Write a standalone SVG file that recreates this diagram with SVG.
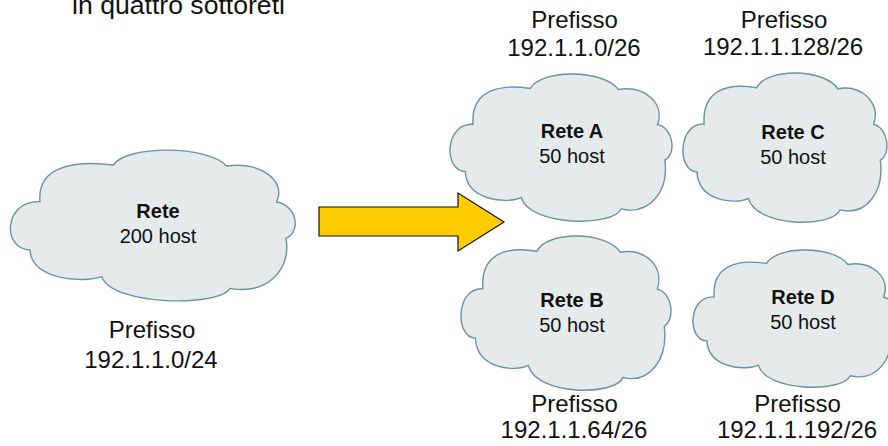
<svg xmlns="http://www.w3.org/2000/svg" xmlns:xlink="http://www.w3.org/1999/xlink" width="888" height="446" viewBox="0 0 888 446">
<style>
.cloud{fill:#e5ebeb;stroke:#6e9496;stroke-width:1.4;vector-effect:non-scaling-stroke}
.t{font-family:"Liberation Sans",Arial,sans-serif;fill:#111;text-anchor:middle}
.n{font-size:20px}
.b{font-weight:bold}
.l{font-size:24px}
.title{font-size:26.6px}
.arrow{fill:#ffcc00;stroke:#111;stroke-width:1.2;stroke-linejoin:miter}
</style>
<defs>
<path id="cloudShape" class="cloud" d="M 90,300 C 5,298 10,150 120,155 C 110,50 220,30 340,45 C 380,-15 620,-15 680,48 C 780,35 860,90 830,156 C 890,165 905,245 858,265 C 875,360 800,435 690,415 C 660,470 340,470 305,380 C 250,400 95,390 90,300 Z"/>
</defs>
<text class="t title" x="178.5" y="13.5">in quattro sottoreti</text>
<g id="connectors">
<polygon class="arrow" points="319,207 458,207 458,193 504,222 458,251 458,236 319,236"/>
</g>
<g id="rete">
<use xlink:href="#cloudShape" href="#cloudShape" transform="translate(0,150) scale(0.3333)"/>
<text class="t n b" x="158" y="218">Rete</text>
<text class="t n" x="158" y="243">200 host</text>
<text class="t l" x="152" y="338">Prefisso</text>
<text class="t l" x="151" y="368">192.1.1.0/24</text>
</g>
<g id="rete-a">
<use xlink:href="#cloudShape" href="#cloudShape" transform="translate(441.9,73.9) scale(0.2598,0.3254)"/>
<text class="t n b" x="572" y="138">Rete A</text>
<text class="t n" x="572" y="163">50 host</text>
<text class="t l" x="574.5" y="28">Prefisso</text>
<text class="t l" x="574" y="56">192.1.1.0/26</text>
</g>
<g id="rete-c">
<use xlink:href="#cloudShape" href="#cloudShape" transform="translate(675.5,72.9) scale(0.2387,0.3299)"/>
<text class="t n b" x="793" y="139">Rete C</text>
<text class="t n" x="793" y="164">50 host</text>
<text class="t l" x="784" y="27.5">Prefisso</text>
<text class="t l" x="783" y="55">192.1.1.128/26</text>
</g>
<g id="rete-b">
<use xlink:href="#cloudShape" href="#cloudShape" transform="translate(453.3,235.9) scale(0.2458,0.3409)"/>
<text class="t n b" x="572" y="307">Rete B</text>
<text class="t n" x="572" y="332">50 host</text>
<text class="t l" x="574.5" y="412">Prefisso</text>
<text class="t l" x="574" y="438">192.1.1.64/26</text>
</g>
<g id="rete-d">
<use xlink:href="#cloudShape" href="#cloudShape" transform="translate(685.5,249.9) scale(0.2387,0.3033)"/>
<text class="t n b" x="803" y="304">Rete D</text>
<text class="t n" x="803" y="329">50 host</text>
<text class="t l" x="797.5" y="412">Prefisso</text>
<text class="t l" x="797" y="438">192.1.1.192/26</text>
</g>
</svg>
